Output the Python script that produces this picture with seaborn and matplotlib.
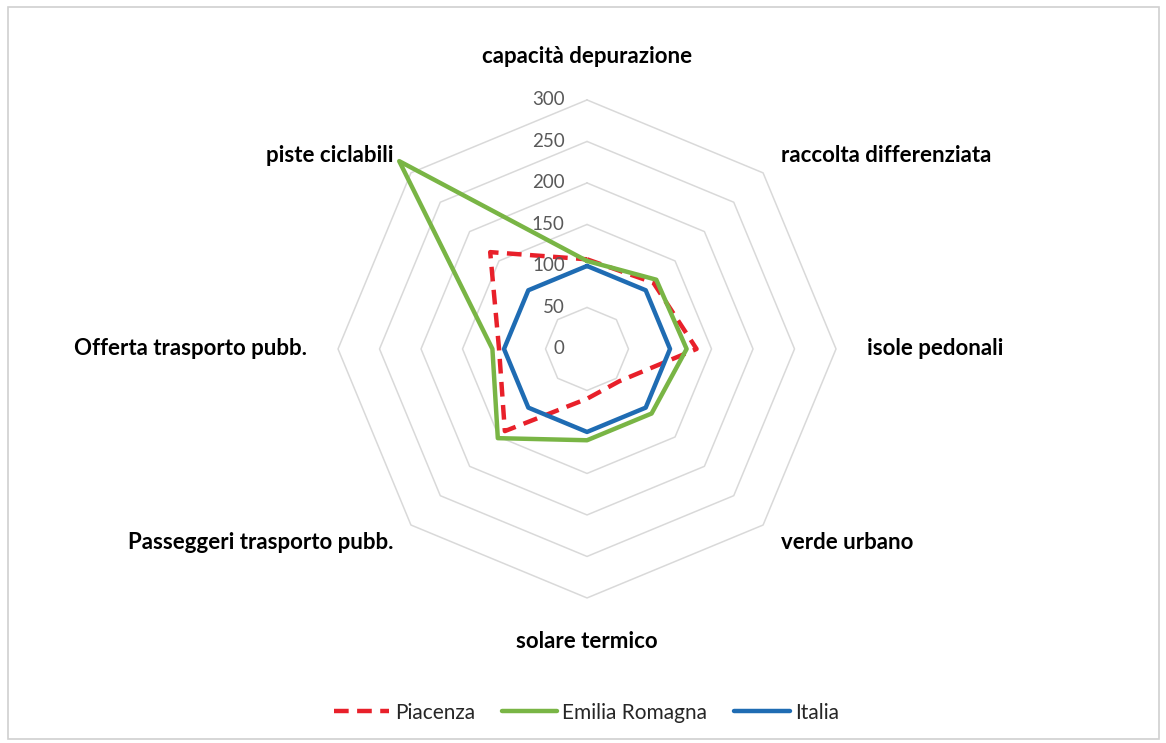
import numpy as np
import pandas as pd
import matplotlib
matplotlib.use("Agg")
import matplotlib.pyplot as plt
import matplotlib.transforms as mtrans
from matplotlib.patches import Rectangle
import seaborn as sns

categories = ["capacità depurazione", "raccolta differenziata", "isole pedonali",
              "verde urbano", "solare termico", "Passeggeri trasporto pubb.",
              "Offerta trasporto pubb.", "piste ciclabili"]
piacenza = [108, 113, 132, 55, 60, 140, 106, 165]
emilia = [106, 118, 120, 110, 110, 152, 114, 320]
italia = [100, 100, 100, 100, 100, 100, 100, 100]
series_names = ["Piacenza", "Emilia Romagna", "Italia"]
rings = [50, 100, 150, 200, 250, 300]
ring_labels = ["0", "50", "100", "150", "200", "250", "300"]

sns.set_theme(style="white")
plt.rcParams["font.family"] = ["Lato", "DejaVu Sans"]

n = len(categories)
theta = np.linspace(0, 2 * np.pi, n, endpoint=False)
theta_closed = np.append(theta, 2 * np.pi)

rows = []
for name, vals in zip(series_names, [piacenza, emilia, italia]):
    for t, v in zip(theta_closed, vals + vals[:1]):
        rows.append({"serie": name, "theta": t, "valore": v})
df = pd.DataFrame(rows)

fig = plt.figure(figsize=(11.66, 7.43), dpi=100)
ax = fig.add_axes([0.2899, 0.1952, 0.4271, 0.6703], projection="polar")
ax.set_theta_zero_location("N")
ax.set_theta_direction(-1)
ax.set_ylim(0, 300)
ax.set_xticks([])
ax.set_yticks([])
ax.grid(False)
ax.spines["polar"].set_visible(False)
ax.patch.set_alpha(0)

# octagon grid
for r in rings:
    ax.plot(theta_closed, [r] * (n + 1), color="#d9d9d9", lw=1.1, zorder=1)

colors = {"Piacenza": "#e8202a", "Emilia Romagna": "#79b545", "Italia": "#1f6cb3"}
styles = {"Piacenza": (0, (3.3, 1.9)), "Emilia Romagna": "-", "Italia": "-"}
for name in series_names:
    sns.lineplot(data=df[df["serie"] == name], x="theta", y="valore", ax=ax,
                 sort=False, estimator=None, color=colors[name], lw=3.2,
                 linestyle=styles[name], label=name, legend=False, zorder=3)
for line in ax.lines:
    line.set_clip_on(False)
ax.set_xlabel("")
ax.set_ylabel("")

# radial tick labels, left of the vertical axis
off = mtrans.offset_copy(ax.transData, fig=fig, x=-16, y=0, units="points")
for i, lab in enumerate(ring_labels):
    ax.text(0, i * 50, lab, transform=off, ha="right", va="center",
            fontsize=13.5, color="#595959")

# category labels
label_pos = [(352, "center"), (330, "left"), (337, "left"), (330, "left"),
             (352, "center"), (330, "right"), (337, "right"), (330, "right")]
for t, cat, (r, ha) in zip(theta, categories, label_pos):
    ax.text(t, r, cat, ha=ha, va="center", fontsize=16, fontweight="bold", color="black")

handles = [l for l in ax.lines if l.get_label() in series_names]
fig.legend(handles, series_names, loc="center", bbox_to_anchor=(0.503, 0.041), ncol=3,
           frameon=False, fontsize=15, handlelength=2.65, columnspacing=1.3,
           handletextpad=0.25)

fig.patches.append(Rectangle((0.007, 0.006), 0.987, 0.984, transform=fig.transFigure,
                             fill=False, edgecolor="#d0d0d0", lw=1.2))

fig.savefig("out.png", dpi=100)
